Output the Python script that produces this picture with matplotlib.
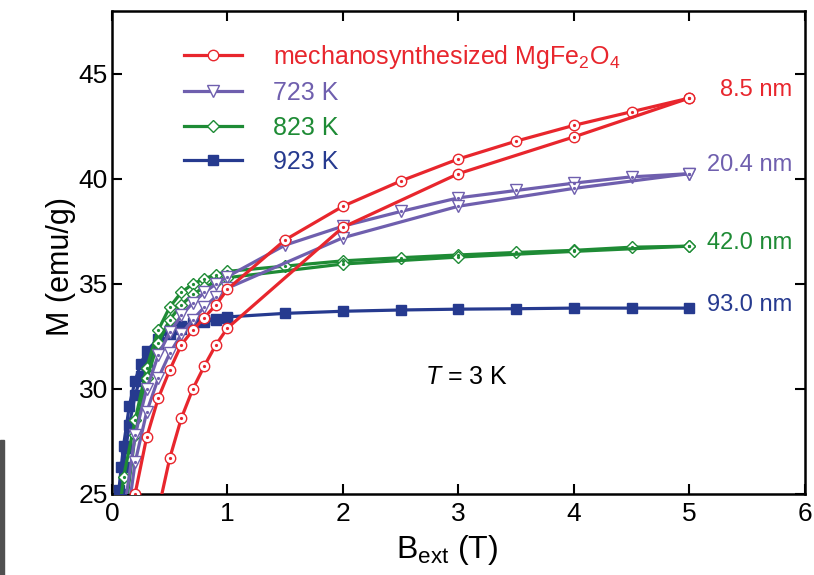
import matplotlib
matplotlib.use("Agg")
import matplotlib.pyplot as plt
from matplotlib import font_manager
from matplotlib.patches import Rectangle

# ---- data ----
# mechanosynthesized MgFe2O4 (8.5 nm)
red_desc_B = [5, 4.5, 4, 3.5, 3, 2.5, 2, 1.5, 1.0, 0.9, 0.8, 0.7, 0.6, 0.5, 0.4, 0.3, 0.2, 0.1]
red_desc_M = [43.85, 43.2, 42.55, 41.8, 40.95, 39.9, 38.7, 37.1, 34.75, 34.0, 33.4, 32.8, 32.1, 30.9, 29.55, 27.7, 25.0, 21.5]
red_virg_B = [0.4, 0.5, 0.6, 0.7, 0.8, 0.9, 1.0, 2, 3, 4, 5]
red_virg_M = [24.2, 26.7, 28.6, 30.0, 31.1, 32.1, 32.9, 37.7, 40.25, 42.0, 43.85]

# 723 K (20.4 nm)
pur_desc_B = [5, 4.5, 4, 3.5, 3, 2.5, 2, 1.5, 1.0, 0.9, 0.8, 0.7, 0.6, 0.5, 0.4, 0.3, 0.2, 0.1]
pur_desc_M = [40.25, 40.1, 39.8, 39.45, 39.1, 38.45, 37.75, 36.85, 35.35, 35.0, 34.6, 34.1, 33.5, 32.7, 31.6, 30.0, 27.8, 24.0]
pur_virg_B = [5, 4, 3, 2, 1.0, 0.9, 0.8, 0.7, 0.6, 0.5, 0.4, 0.3, 0.2, 0.1]
pur_virg_M = [40.25, 39.55, 38.7, 37.2, 34.8, 34.4, 33.9, 33.3, 32.6, 31.7, 30.5, 28.9, 26.5, 22.5]

# 823 K (42.0 nm)
grn_desc_B = [5, 4.5, 4, 3.5, 3, 2.5, 2, 1.5, 1.0, 0.9, 0.8, 0.7, 0.6, 0.5, 0.4, 0.3, 0.2, 0.1, 0.05]
grn_desc_M = [36.8, 36.75, 36.6, 36.5, 36.38, 36.25, 36.1, 35.85, 35.6, 35.45, 35.25, 35.0, 34.6, 33.9, 32.8, 31.0, 28.5, 25.8, 23.5]
grn_virg_B = [5, 4, 3, 2, 1.0, 0.9, 0.8, 0.7, 0.6, 0.5, 0.4, 0.3, 0.2, 0.1]
grn_virg_M = [36.8, 36.55, 36.28, 35.95, 35.3, 35.1, 34.85, 34.5, 34.0, 33.3, 32.2, 30.5, 27.8, 23.5]

# 923 K (93.0 nm)
blu_desc_B = [5, 4.5, 4, 3.5, 3, 2.5, 2, 1.5, 1.0, 0.9, 0.8, 0.7, 0.6, 0.5, 0.4, 0.3, 0.25, 0.2, 0.15, 0.1, 0.08, 0.06, 0.04]
blu_desc_M = [33.85, 33.85, 33.85, 33.82, 33.8, 33.76, 33.7, 33.6, 33.43, 33.35, 33.28, 33.15, 33.0, 32.8, 32.4, 31.8, 31.2, 30.4, 29.2, 27.3, 26.3, 25.2, 24.0]
blu_virg_B = [1.0, 0.9, 0.8, 0.7, 0.6, 0.5, 0.4, 0.3, 0.25, 0.2, 0.15, 0.12, 0.1, 0.08]
blu_virg_M = [33.4, 33.3, 33.2, 33.05, 32.85, 32.6, 32.1, 31.3, 30.6, 29.7, 28.3, 27.2, 26.3, 25.0]

labels = ["mechanosynthesized MgFe$_2$O$_4$", "723 K", "823 K", "923 K"]
sizes = ["8.5 nm", "20.4 nm", "42.0 nm", "93.0 nm"]
size_pos = [44.25, 40.65, 36.95, 34.0]

colors = ["#e8262d", "#6f5fae", "#1e8b35", "#263a8f"]
markers = ["o", "v", "D", "s"]
msizes = [7.5, 8, 6.5, 6.5]

names = {f.name for f in font_manager.fontManager.ttflist}
base = "Liberation Sans" if "Liberation Sans" in names else "DejaVu Sans"
narrow = "Liberation Sans Narrow" if "Liberation Sans Narrow" in names else base

plt.rcParams["font.family"] = [base, "DejaVu Sans"]
plt.rcParams["mathtext.fontset"] = "custom"
plt.rcParams["mathtext.rm"] = base
plt.rcParams["mathtext.it"] = base + ":italic"

fig = plt.figure(figsize=(8.14, 5.75), dpi=100)
ax = fig.add_axes([0.1376, 0.1409, 0.851, 0.8401])

series = [
    [(red_desc_B, red_desc_M), (red_virg_B, red_virg_M)],
    [(pur_desc_B, pur_desc_M), (pur_virg_B, pur_virg_M)],
    [(grn_desc_B, grn_desc_M), (grn_virg_B, grn_virg_M)],
    [(blu_desc_B, blu_desc_M), (blu_virg_B, blu_virg_M)],
]

for i, branches in enumerate(series):
    c = colors[i]
    is_open = markers[i] != "s"
    face = "white" if is_open else c
    z = 3 + (3 - i) * 0.1
    for j, (b, m) in enumerate(branches):
        ax.plot(b, m, color=c, lw=2.3, marker=markers[i], ms=msizes[i],
                mfc=face, mec=c, mew=1.0, zorder=z,
                label=labels[i] if j == 0 else None)
        if is_open:
            # small centre dot seen inside the open symbols
            ax.plot(b, m, ls="none", marker="o", ms=1.3, color=c, zorder=z + 0.01)
    ax.text(5.89, size_pos[i], sizes[i], color=c, fontsize=17,
            ha="right", va="center")

ax.text(3.07, 30.55, "$T$ = 3 K", fontsize=18, ha="center", va="center")

ax.set_xlim(0, 6)
ax.set_ylim(25, 48)
ax.set_xticks(range(0, 7))
ax.set_yticks([25, 30, 35, 40, 45])
ax.tick_params(direction="in", length=7, width=1.5, top=True, right=True,
               labelsize=19)
ax.tick_params(axis="x", pad=6)
ax.tick_params(axis="y", pad=3)
for lab in ax.get_xticklabels() + ax.get_yticklabels():
    lab.set_family(narrow)
for sp in ax.spines.values():
    sp.set_linewidth(1.8)

ax.set_xlabel("B$_\\mathregular{ext}$ (T)", fontsize=23, family=narrow)
ax.set_ylabel("M (emu/g)", fontsize=22, family=narrow)
ax.xaxis.set_label_coords(0.484, -0.08)
ax.yaxis.set_label_coords(-0.052, 0.47)

leg = ax.legend(loc="upper left", bbox_to_anchor=(0.09, 0.955), frameon=False,
                fontsize=18, labelcolor="linecolor", handlelength=2.3,
                handletextpad=1.25, labelspacing=0.42, numpoints=1,
                borderaxespad=0)

# dark strip at the left edge of the scanned figure
fig.patches.append(Rectangle((0, 0), 0.005, 0.235, transform=fig.transFigure,
                             color="#505050", zorder=0))

fig.savefig("out.png", dpi=100)
